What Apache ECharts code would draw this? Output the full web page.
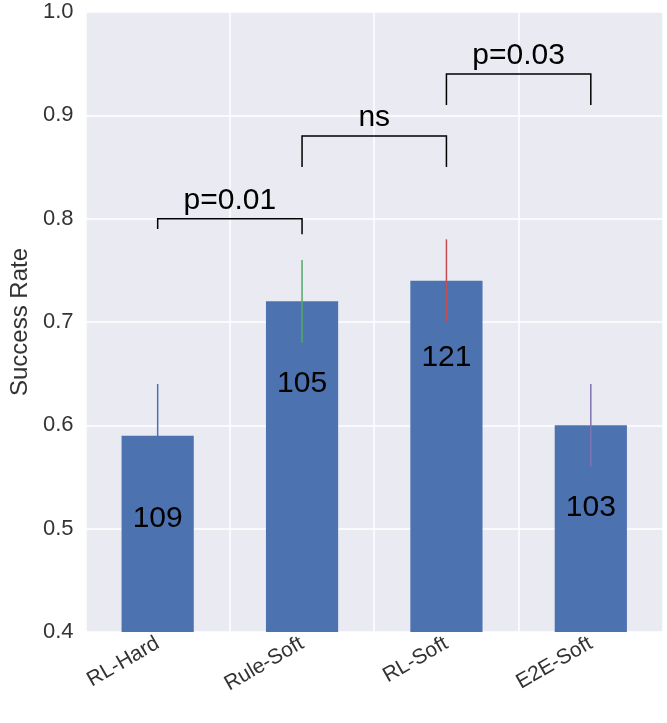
<!DOCTYPE html>
<html>
<head>
<meta charset="utf-8">
<script src="https://cdn.jsdelivr.net/npm/echarts@6/dist/echarts.min.js"></script>
<style>html,body{margin:0;padding:0;background:#fff}</style>
</head>
<body>
<div id="chart" style="width:667px;height:723px"></div>
<script>
const categories = ["RL-Hard", "Rule-Soft", "RL-Soft", "E2E-Soft"];
const rates = [0.59, 0.72, 0.74, 0.60];
const errLow = [0.54, 0.68, 0.70, 0.56];
const errHigh = [0.64, 0.76, 0.78, 0.64];
const errColors = ["#4c72b0", "#55a868", "#c44e52", "#8172b2"];
const counts = ["109", "105", "121", "103"];
const countPos = [0.51, 0.64, 0.665, 0.52];
// bracket: [left idx, right idx, top, left leg end, right leg end, text]
const brackets = [
  [0, 1, 0.80, 0.79, 0.785, "p=0.01"],
  [1, 2, 0.88, 0.85, 0.85, "ns"],
  [2, 3, 0.94, 0.91, 0.91, "p=0.03"]
];

const chart = echarts.init(document.getElementById("chart"));
const option = {
  backgroundColor: "#fff",
  animation: false,
  grid: { left: 85, right: 4, top: 12, bottom: 91, backgroundColor: "#eaeaf2", show: true, borderWidth: 0 },
  xAxis: {
    type: "category",
    data: categories,
    axisLine: { show: false },
    axisTick: { show: false },
    splitLine: { show: true, interval: 0, lineStyle: { color: "#fff", width: 1.5 } },
    axisLabel: { rotate: 30, fontSize: 21, color: "#333", fontFamily: "Liberation Sans", margin: 10 }
  },
  yAxis: {
    type: "value",
    min: 0.4, max: 1.0, interval: 0.1,
    name: "Success Rate",
    nameLocation: "middle",
    nameGap: 52,
    nameTextStyle: { fontSize: 24, color: "#333", fontFamily: "Liberation Sans" },
    axisLine: { show: false },
    axisTick: { show: false },
    splitLine: { lineStyle: { color: "#fff", width: 1.5 } },
    axisLabel: { fontSize: 22, color: "#333", fontFamily: "Liberation Sans", formatter: v => v.toFixed(1), margin: 12 }
  },
  series: [
    {
      type: "bar",
      data: rates,
      barWidth: "50%",
      itemStyle: { color: "#4c72b0" },
      z: 2
    },
    {
      type: "custom",
      data: categories.map((c, i) => [i, errLow[i], errHigh[i]]),
      z: 3,
      renderItem: (params, api) => {
        const a = api.coord([api.value(0), api.value(1)]);
        const b = api.coord([api.value(0), api.value(2)]);
        return { type: "line", shape: { x1: a[0], y1: a[1], x2: b[0], y2: b[1] },
          style: { stroke: errColors[params.dataIndex], lineWidth: 1.5 } };
      }
    },
    {
      type: "custom",
      data: counts.map((c, i) => [i, countPos[i]]),
      z: 4,
      renderItem: (params, api) => {
        const p = api.coord([api.value(0), api.value(1)]);
        return { type: "text", x: p[0], y: p[1],
          style: { text: counts[params.dataIndex], fontSize: 30, fill: "#000", fontFamily: "Liberation Sans", align: "center", verticalAlign: "middle" } };
      }
    },
    {
      type: "custom",
      data: brackets.map(b => [b[0], b[1], b[2], b[3], b[4]]),
      z: 5,
      renderItem: (params, api) => {
        const l = api.coord([api.value(0), api.value(2)]);
        const r = api.coord([api.value(1), api.value(2)]);
        const lb = api.coord([api.value(0), api.value(3)]);
        const rb = api.coord([api.value(1), api.value(4)]);
        return { type: "group", children: [
          { type: "polyline", shape: { points: [[lb[0], lb[1]], [l[0], l[1]], [r[0], r[1]], [rb[0], rb[1]]] },
            style: { stroke: "#000", lineWidth: 1.5, fill: null } },
          { type: "text", x: (l[0] + r[0]) / 2, y: l[1] - 3,
            style: { text: brackets[params.dataIndex][5], fontSize: 30, fill: "#000", fontFamily: "Liberation Sans", align: "center", verticalAlign: "bottom" } }
        ] };
      }
    }
  ]
};
chart.setOption(option);
</script>
</body>
</html>
